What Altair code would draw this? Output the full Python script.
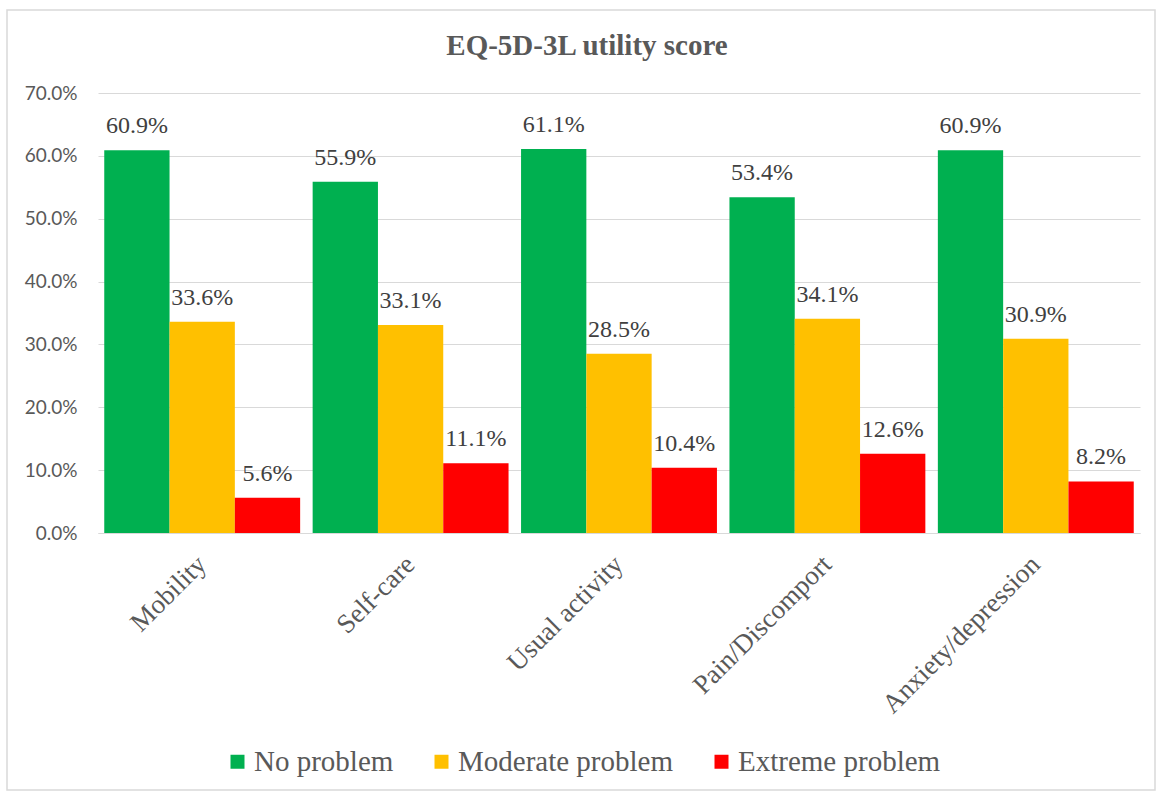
import altair as alt
import pandas as pd

categories = ["Mobility", "Self-care", "Usual activity", "Pain/Discomport", "Anxiety/depression"]
series = ["No problem", "Moderate problem", "Extreme problem"]
colors = ["#00B050", "#FFC000", "#FF0000"]
no_problem = [0.609, 0.559, 0.611, 0.534, 0.609]
moderate_problem = [0.336, 0.331, 0.285, 0.341, 0.309]
extreme_problem = [0.056, 0.111, 0.104, 0.126, 0.082]
y_ticks = [0.0, 0.1, 0.2, 0.3, 0.4, 0.5, 0.6, 0.7]

SERIF = "Liberation Serif, Times New Roman, serif"

rows = []
for s, vals in zip(series, [no_problem, moderate_problem, extreme_problem]):
    for c, v in zip(categories, vals):
        rows.append({"cat": c, "series": s, "value": v})
df = pd.DataFrame(rows)

base = alt.Chart(df)

x_enc = alt.X(
    "cat:N",
    sort=categories,
    scale=alt.Scale(paddingInner=0.06, paddingOuter=0.03),
    axis=alt.Axis(
        title=None,
        labelAngle=-45,
        labelFont=SERIF,
        labelFontSize=27,
        labelColor="#595959",
        labelLimit=400,
        labelBaseline="middle",
        ticks=False,
        domainColor="#d9d9d9",
        labelPadding=27,
    ),
)
y_enc = alt.Y(
    "value:Q",
    scale=alt.Scale(domain=[0, 0.7], nice=False),
    axis=alt.Axis(
        title=None,
        values=y_ticks,
        format=".1%",
        labelFont="Lato",
        labelFontSize=19,
        labelColor="#595959",
        grid=True,
        gridColor="#d9d9d9",
        domain=False,
        ticks=False,
        labelPadding=21,
    ),
)
xo = alt.XOffset("series:N", sort=series)

bars = base.mark_bar().encode(
    x=x_enc,
    xOffset=xo,
    y=y_enc,
    color=alt.Color(
        "series:N",
        sort=series,
        scale=alt.Scale(domain=series, range=colors),
        legend=alt.Legend(
            title=None,
            orient="none",
            legendX=125,
            legendY=654,
            direction="horizontal",
            symbolType="square",
            symbolSize=196,
            symbolStrokeWidth=0,
            labelFont=SERIF,
            labelFontSize=29,
            labelColor="#595959",
            labelLimit=400,
            labelOffset=2,
            columnPadding=33,
        ),
    ),
)

labels = base.mark_text(
    dy=-17,
    baseline="alphabetic",
    font=SERIF,
    fontSize=24,
    color="#404040",
).encode(
    x=alt.X("cat:N", sort=categories),
    xOffset=xo,
    y=alt.Y("value:Q"),
    text=alt.Text("value:Q", format=".1%"),
)

frame = alt.Chart(pd.DataFrame({"a": [0]})).mark_rect(
    fillOpacity=0, stroke="#d9d9d9", strokeWidth=1.5
).encode(
    x=alt.value(-91), x2=alt.value(1057), y=alt.value(-83), y2=alt.value(697)
)

chart = alt.layer(frame, bars, labels).properties(
    width=1042,
    height=440,
    padding={"left": 98, "top": 93, "right": 21, "bottom": 261},
    autosize=alt.AutoSizeParams(type="none"),
    title=alt.TitleParams(
        text="EQ-5D-3L utility score",
        font=SERIF,
        fontSize=29,
        fontWeight="bold",
        color="#595959",
        anchor="middle",
        dx=-32,
        offset=-75,
        baseline="alphabetic",
    ),
).configure_view(stroke=None).configure_legend(labelFont=SERIF)

chart.save("out.html", embed_options={"renderer": "svg", "actions": False})
